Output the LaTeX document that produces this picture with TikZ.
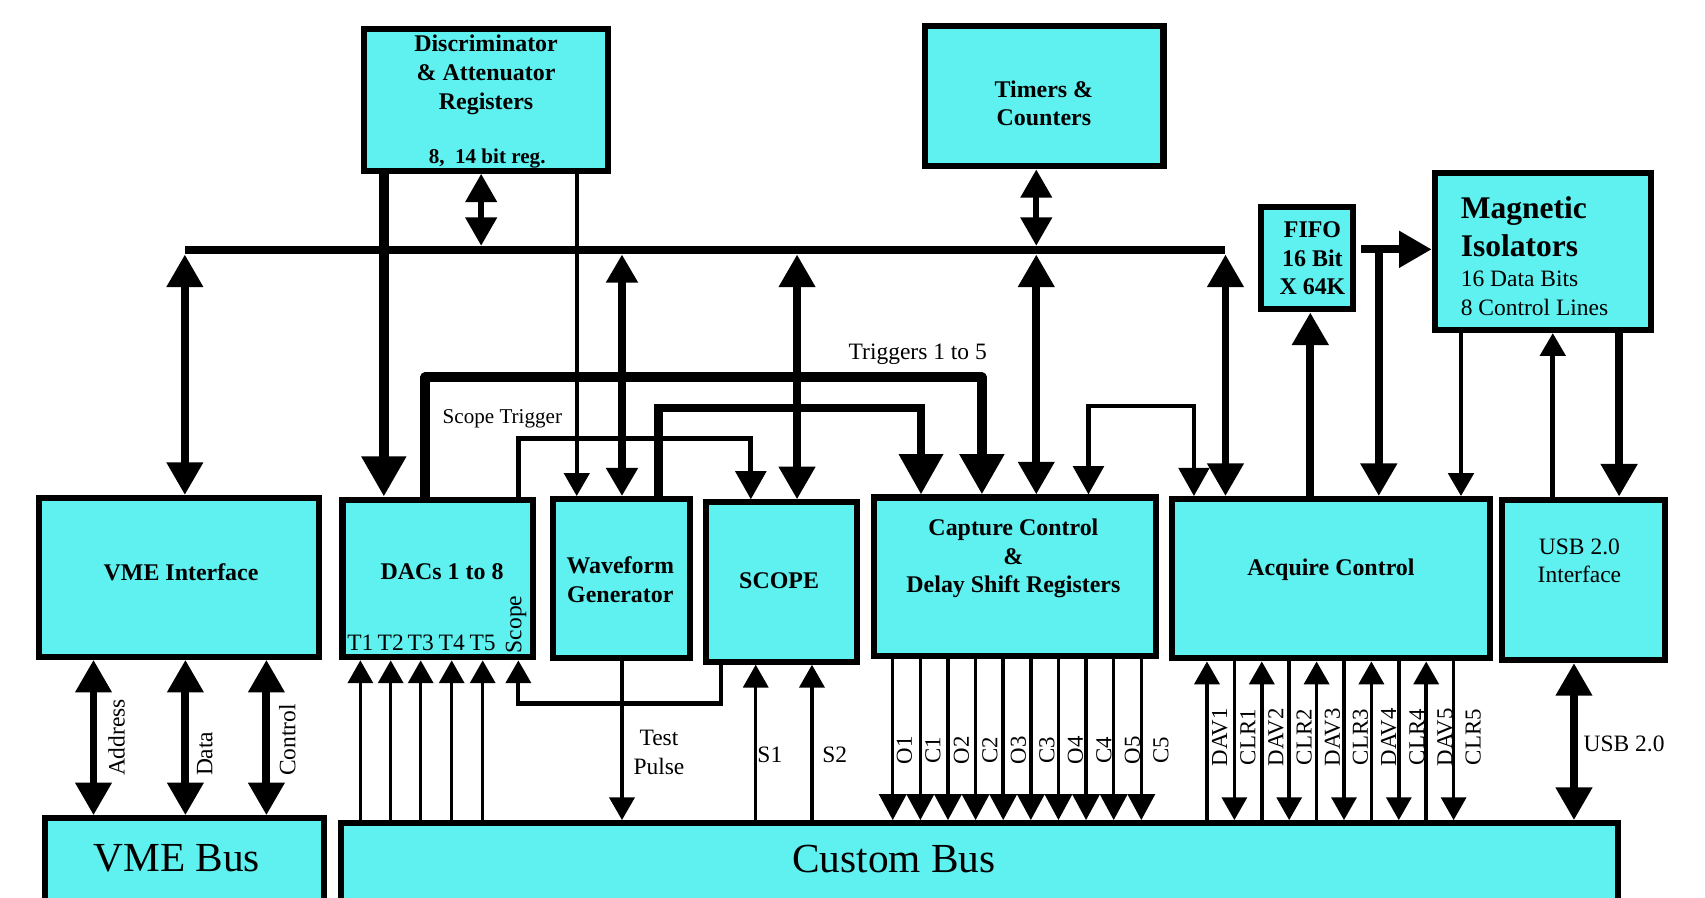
\documentclass[tikz,border=0pt]{standalone}
\usepackage{fontspec}
\setmainfont{Liberation Serif}
\usetikzlibrary{arrows.meta,fit,calc}
\definecolor{boxcyan}{RGB}{95,240,240}
\tikzset{
  box/.style={draw, line width=2.8pt, fill=boxcyan, inner sep=0pt, outer sep=1.4pt},
  bt/.style={font=\bfseries\fontsize{11}{13.2}\selectfont, align=center, inner sep=0pt},
  nt/.style={font=\fontsize{10.8}{13}\selectfont, align=center, inner sep=0pt},
  st/.style={font=\fontsize{9.7}{11}\selectfont, inner sep=0pt},
  mg/.style={font=\bfseries\fontsize{14.5}{17}\selectfont, inner sep=0pt},
  bigt/.style={font=\fontsize{19}{22}\selectfont, inner sep=0pt},
  rt/.style={font=\fontsize{10.5}{12}\selectfont, inner sep=0pt, rotate=90},
  lbus/.style={line width=3.6pt},
  lxl/.style={line width=4.5pt},
  lth/.style={line width=3.8pt},
  lmd/.style={line width=2.7pt},
  lsm/.style={line width=2.2pt},
  lnr/.style={line width=1.9pt},
  lhr/.style={line width=1.6pt},
  tS/.tip={Triangle[length=10.5pt,width=11.5pt]},
  tO/.tip={Triangle[length=12pt,width=12.5pt]},
  tM/.tip={Triangle[length=13pt,width=14pt]},
  tL/.tip={Triangle[length=15pt,width=16pt]},
  tX/.tip={Triangle[length=18.5pt,width=19.5pt]},
}
\begin{document}
\begin{tikzpicture}[x=0.5pt,y=-0.5pt]
\useasboundingbox (0,0) rectangle (1568,825);
\clip (0,0) rectangle (1568,825);

% ---------- boxes ----------
\node[box, fit={(335,27) (559,157)}] (disc) {};
\node[box, fit={(851,24) (1070,153)}] (timers) {};
\node[box, fit={(1160,190.5) (1244,284.5)}] (fifo) {};
\node[box, fit={(1319.5,159) (1518,303.5)}] (mag) {};
\node[box, fit={(36,458) (293,604)}] (vmei) {};
\node[box, fit={(315,459.5) (490.5,604.5)}] (dacs) {};
\node[box, fit={(508.5,459) (634.5,605)}] (wave) {};
\node[box, fit={(649.5,462) (788.5,608.5)}] (scope) {};
\node[box, fit={(803.5,457.5) (1063,603.5)}] (capt) {};
\node[box, fit={(1078,459) (1370,605.5)}] (acq) {};
\node[box, fit={(1381,459.5) (1531.5,607)}] (usb) {};
\node[box, fit={(41.5,752.5) (298,860)}] (vmebus) {};
\node[box, fit={(314,757) (1488,860)}] (cbus) {};

% ---------- box texts ----------
\node[bt] (discT) at (447,69) {Discriminator\\\& Attenuator\\Registers};
\node[bt, font=\bfseries\fontsize{9.7}{11}\selectfont] (discR) at (448,146) {8,\ \ 14 bit reg.};
\node[bt] (timT) at (960,95) {Timers \&\\Counters};
\node[bt] (fifoT) at (1207,237.6) {FIFO\\16 Bit\\X 64K};
\node[mg, anchor=base west] (magA) at (1343,201) {Magnetic};
\node[mg, anchor=base west] (magB) at (1343,236) {Isolators};
\node[nt, anchor=base west] (magC) at (1343,263.6) {16 Data Bits};
\node[nt, anchor=base west] (magD) at (1343,289.7) {8 Control Lines};
\node[bt] (vmeiT) at (166.5,526) {VME Interface};
\node[bt] (dacsT) at (406.5,526) {DACs 1 to 8};
\node[bt] (waveT) at (570.5,533) {Waveform\\Generator};
\node[bt] (scopeT) at (716.5,534) {SCOPE};
\node[bt] (captT) at (932,513.5) {Capture Control\\\&\\Delay Shift Registers};
\node[bt] (acqT) at (1224,524) {Acquire Control};
\node[nt] (usbT) at (1452.5,516) {USB 2.0\\Interface};
\node[bigt] (vmebusT) at (162.5,789) {VME Bus};
\node[bigt] (cbusT) at (822,790) {Custom Bus};

% ---------- helper columns / rows ----------
\path (170,0) coordinate (cVI) (353,0) coordinate (cDD) (442.5,0) coordinate (cDA)
      (530.4,0) coordinate (cDW) (572,0) coordinate (cWB) (733,0) coordinate (cSB)
      (953,0) coordinate (cTB) (1127,0) coordinate (cAB)
      (391,0) coordinate (cTr) (903,0) coordinate (cTrR)
      (605.5,0) coordinate (cWv) (847,0) coordinate (cWvR)
      (477,0) coordinate (cSt) (690.5,0) coordinate (cStR)
      (1001,0) coordinate (cBrL) (1098,0) coordinate (cBrR)
      (1205,0) coordinate (cFi) (1268,0) coordinate (cFM)
      (1343.6,0) coordinate (cMA) (1428,0) coordinate (cUM) (1489,0) coordinate (cMU)
      (662.7,0) coordinate (cSr1) (476.7,0) coordinate (cSr2)
      (572,0) coordinate (cTP) (695,0) coordinate (cS1) (746.7,0) coordinate (cS2)
      (1447.5,0) coordinate (cU);
\path (0,226) coordinate (bTop) (0,234) coordinate (bBot)
      (0,347) coordinate (rTr) (0,375) coordinate (rWv) (0,403) coordinate (rSt)
      (0,373) coordinate (rBr) (0,229.3) coordinate (rB) (0,647) coordinate (rSr);

% ---------- main bus ----------
\coordinate (busL) at (170,230);
\coordinate (busR) at (1127,230);
\draw[lbus] (busL) -- (busR);

\draw[lbus,tL-tL] (cVI |- bBot) -- (cVI |- vmei.north);
\draw[lxl,-tX] (cDD |- disc.south) -- (cDD |- dacs.north);
\draw[lmd,tM-tM] (cDA |- disc.south) -- (cDA |- bTop);
\draw[lnr,-tS] (cDW |- disc.south) -- (cDW |- wave.north);
\draw[lbus,tM-tM] (cWB |- bBot) -- (cWB |- wave.north);
\draw[lbus,tL-tL] (cSB |- bBot) -- (cSB |- scope.north);
\draw[lmd,tM-tM] (cTB |- timers.south) -- (cTB |- bTop);
\draw[lbus,tL-tL] (cTB |- bBot) -- (cTB |- capt.north);
\draw[lbus,tL-tL] (cAB |- bBot) -- (cAB |- acq.north);

% ---------- triggers ----------
\draw[lxl,-tX,line join=round] (cTr |- dacs.north) -- (cTr |- rTr) -- (cTrR |- rTr) -- (cTrR |- capt.north);
\node[nt] (trigL) at (844,326) {Triggers 1 to 5};
\draw[lth,-tX] (cWv |- wave.north) -- (cWv |- rWv) -- (cWvR |- rWv) -- (cWvR |- capt.north);
\draw[lsm,-tM] (cSt |- dacs.north) -- (cSt |- rSt) -- (cStR |- rSt) -- (cStR |- scope.north);
\node[st] (strigL) at (462,385) {Scope Trigger};
\draw[lnr,tM-tM] (cBrL |- capt.north) -- (cBrL |- rBr) -- (cBrR |- rBr) -- (cBrR |- acq.north);

% ---------- FIFO / isolators / USB ----------
\coordinate (fifoOut) at ([xshift=2.5pt]fifo.east);
\draw[lth,-tL] (cFi |- acq.north) -- (cFi |- fifo.south);
\draw[lth,-tL] (fifoOut |- rB) -- (mag.west |- rB);
\draw[lth,-tL] (cFM |- rB) -- (cFM |- acq.north);
\draw[lsm,-tS] (cMA |- mag.south) -- (cMA |- acq.north);
\draw[lsm,-tS] (cUM |- usb.north) -- (cUM |- mag.south);
\draw[lth,-tL] (cMU |- mag.south) -- (cMU |- usb.north);

% ---------- VME interface to VME bus ----------
\foreach \x/\lab/\lx in {86/Address/107.2, 170.5/Data/188.4, 245/Control/264.2}{
  \coordinate (cv\lab) at (\x,0);
  \draw[lbus,tL-tL] (cv\lab |- vmei.south) -- (cv\lab |- vmebus.north);
  \node[nt,rotate=90,anchor=west] (l\lab) at (\lx,714) {\lab};
}

% ---------- DAC inputs ----------
\foreach \x [count=\i] in {331.4,359.3,386.9,415.4,443.9}{
  \coordinate (cT\i) at (\x,0);
  \draw[lhr,-tS] (cT\i |- cbus.north) -- (cT\i |- dacs.south);
  \node[nt,anchor=base] (lT\i) at (\x,598) {T\i};
}
\node[nt,rotate=90,anchor=west] (scopeL) at (474.6,601) {Scope};
\draw[lnr,-tS] (cSr1 |- scope.south) -- (cSr1 |- rSr) -- (cSr2 |- rSr) -- (cSr2 |- dacs.south);

% ---------- test pulse, S1, S2 ----------
\draw[lnr,-tS] (cTP |- wave.south) -- (cTP |- cbus.north);
\node[nt] (tpL) at (606,692) {Test\\Pulse};
\draw[lhr,-tS] (cS1 |- cbus.north) -- (cS1 |- scope.south);
\draw[lhr,-tS] (cS2 |- cbus.north) -- (cS2 |- scope.south);
\node[nt] (s1L) at (708,694) {S1};
\node[nt] (s2L) at (767.6,694) {S2};

% ---------- capture outputs ----------
\foreach \lab [count=\i from 0] in {O1,C1,O2,C2,O3,C3,O4,C4,O5,C5}{
  \pgfmathsetmacro\xx{821+25.4*\i}
  \pgfmathsetmacro\lxx{831.8+26.2*\i}
  \coordinate (cO\i) at (\xx,0);
  \draw[lhr,-tO] (cO\i |- capt.south) -- (cO\i |- cbus.north);
  \node[rt] (lO\i) at (\lxx,690) {\lab};
}

% ---------- acquire DAV / CLR ----------
\foreach \lab [count=\i from 0] in {DAV1,CLR1,DAV2,CLR2,DAV3,CLR3,DAV4,CLR4,DAV5,CLR5}{
  \pgfmathsetmacro\xx{1110+25.2*\i}
  \pgfmathsetmacro\lxx{1121.7+25.9*\i}
  \coordinate (cA\i) at (\xx,0);
  \ifodd\i
    \draw[lhr,-tS] (cA\i |- acq.south) -- (cA\i |- cbus.north);
  \else
    \draw[lhr,-tS] (cA\i |- cbus.north) -- (cA\i |- acq.south);
  \fi
  \node[rt] (lA\i) at (\lxx,678) {\lab};
}

% ---------- USB 2.0 ----------
\draw[lbus,tL-tL] (cU |- usb.south) -- (cU |- cbus.north);
\node[nt,anchor=west] (usbL) at (1456,684) {USB 2.0};
\end{tikzpicture}
\end{document}
